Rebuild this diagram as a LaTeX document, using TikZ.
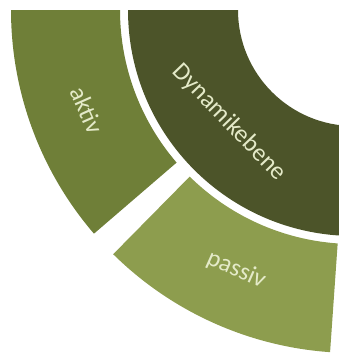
\documentclass[tikz,border=0pt]{standalone}
\usepackage{fontspec}
\setmainfont{Carlito}
\usetikzlibrary{calc}

\definecolor{dunkel}{RGB}{76,84,41}
\definecolor{mittel}{RGB}{111,127,56}
\definecolor{hell}{RGB}{141,157,78}
\definecolor{schrift}{RGB}{228,234,200}

\tikzset{
  lbl/.style={text=schrift,font=\fontsize{25}{28}\selectfont,inner sep=0pt}
}

\begin{document}
\begin{tikzpicture}[x=1pt,y=1pt]
\useasboundingbox (0,0) rectangle (339,-354);
\coordinate (c) at (354,-10);

% ring segments: start/end angle, inner/outer radius, colour
\foreach \a/\b/\ri/\ro/\col in {180/270/116/226/dunkel,180/220.7/234/343/mittel,225.4/266/234/343/hell}
  \fill[\col] ($(c)+(\a:\ro)$) arc[start angle=\a,end angle=\b,radius=\ro pt]
    -- ($(c)+(\b:\ri)$) arc[start angle=\b,end angle=\a,radius=\ri pt] -- cycle;

\node[lbl,rotate=-46] (dyn) at ($(c)+(222:168)$) {Dynamikebene};
\node[lbl,rotate=-66] (akt) at ($(c)+(200.5:285)$) {aktiv};
\node[lbl,rotate=-24] (pas) at ($(c)+(245.6:285)$) {passiv};

\end{tikzpicture}
\end{document}
